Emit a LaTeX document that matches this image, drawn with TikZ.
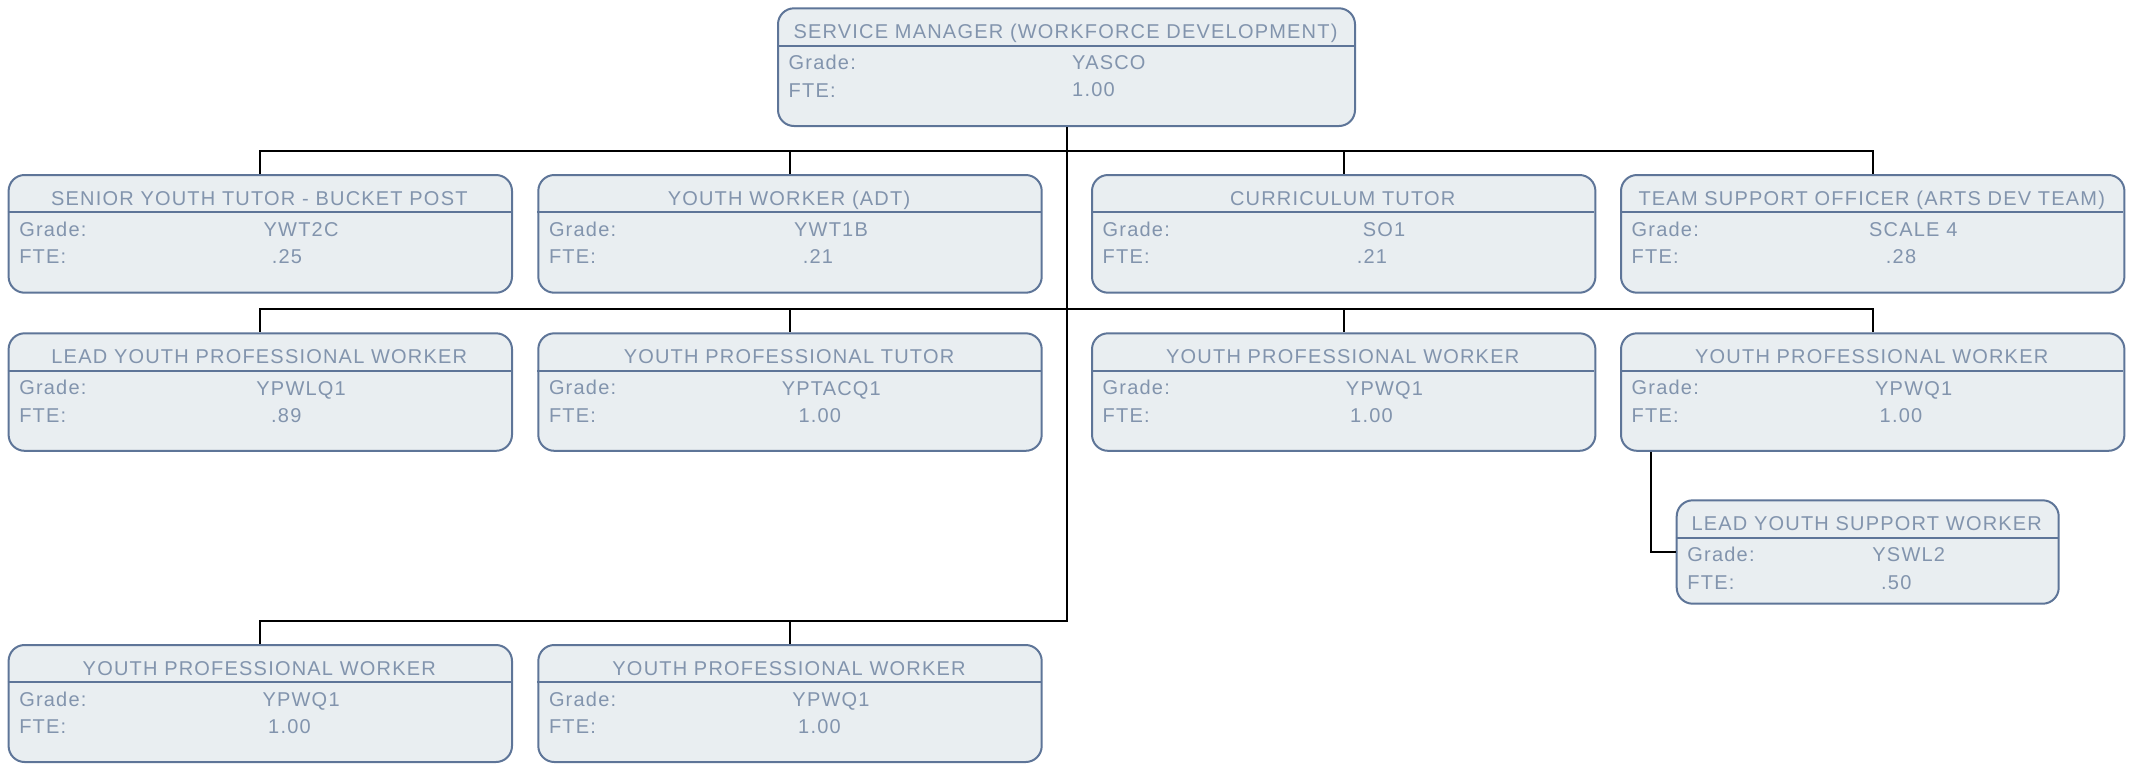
\documentclass[tikz,border=0pt]{standalone}
\usepackage{fontspec}
\setmainfont{Liberation Sans}[LetterSpace=6]
\definecolor{boxfill}{HTML}{E9EEF1}
\definecolor{boxline}{HTML}{5E7598}
\definecolor{boxtext}{HTML}{8294AD}
\tikzset{
  orgbox/.style={draw=boxline, fill=boxfill, line width=2pt, rounded corners=16pt, inner sep=0pt},
  divline/.style={draw=boxline, line width=2pt},
  txt/.style={text=boxtext, inner sep=0pt, font=\fontsize{20}{24}\selectfont},
  conn/.style={draw=black, line width=2pt},
}
\newcommand{\obox}[6]{%
  \node[orgbox, minimum width=#4pt, minimum height=#5pt, anchor=north west] (#1) at (#2,#3) {};
  \draw[divline] (#2,#3+38.3) -- (#2+#4,#3+38.3);
  \node[txt, anchor=base] (#1-title) at (#2+#4/2,#3+31) {#6};
  \node[txt, anchor=base west] (#1-gl) at (#2+11.5,#3+62.5) {Grade:};
  \node[txt, anchor=base west] (#1-fl) at (#2+11.5,#3+89.8) {FTE:};
}
\begin{document}
\begin{tikzpicture}[x=1pt,y=-1pt]
\useasboundingbox (0,0) rectangle (2134,764);
% top
\obox{sm}{777}{7.3}{577}{117.7}{SERVICE MANAGER (WORKFORCE DEVELOPMENT)}
\node[txt, anchor=base west] (sm-g) at (1072,69.3) {YASCO};
\node[txt, anchor=base west] (sm-f) at (1072,96.7) {1.00};
% row 1
\obox{r1a}{7.6}{174}{503.4}{117.7}{SENIOR YOUTH TUTOR - BUCKET POST}
\node[txt, anchor=base] (r1a-g) at (301.1,236.7) {YWT2C};
\node[txt, anchor=base west] (r1a-f) at (271.6,263.8) {.25};
\obox{r1b}{537.3}{174}{503.4}{117.7}{YOUTH WORKER (ADT)}
\node[txt, anchor=base] (r1b-g) at (831,236.7) {YWT1B};
\node[txt, anchor=base west] (r1b-f) at (802.7,263.8) {.21};
\obox{r1c}{1091}{174}{503.4}{117.7}{CURRICULUM TUTOR}
\node[txt, anchor=base] (r1c-g) at (1384,236.7) {SO1};
\node[txt, anchor=base west] (r1c-f) at (1356.7,263.8) {.21};
\obox{r1d}{1620}{174}{503.4}{117.7}{TEAM SUPPORT OFFICER (ARTS DEV TEAM)}
\node[txt, anchor=base] (r1d-g) at (1913.3,236.7) {SCALE 4};
\node[txt, anchor=base west] (r1d-f) at (1885.7,263.8) {.28};
% row 2
\obox{r2a}{7.6}{332.3}{503.4}{117.5}{LEAD YOUTH PROFESSIONAL WORKER}
\node[txt, anchor=base] (r2a-g) at (301.1,395) {YPWLQ1};
\node[txt, anchor=base west] (r2a-f) at (271,422) {.89};
\obox{r2b}{537.3}{332.3}{503.4}{117.5}{YOUTH PROFESSIONAL TUTOR}
\node[txt, anchor=base] (r2b-g) at (831.3,395) {YPTACQ1};
\node[txt, anchor=base west] (r2b-f) at (798.3,422) {1.00};
\obox{r2c}{1091}{332.3}{503.4}{117.5}{YOUTH PROFESSIONAL WORKER}
\node[txt, anchor=base] (r2c-g) at (1384.5,395) {YPWQ1};
\node[txt, anchor=base west] (r2c-f) at (1350,422) {1.00};
\obox{r2d}{1620}{332.3}{503.4}{117.5}{YOUTH PROFESSIONAL WORKER}
\node[txt, anchor=base] (r2d-g) at (1913.7,395) {YPWQ1};
\node[txt, anchor=base west] (r2d-f) at (1879.5,422) {1.00};
% lead support worker
\obox{ls}{1675.7}{499.3}{382}{103.4}{LEAD YOUTH SUPPORT WORKER}
\node[txt, anchor=base] (ls-g) at (1908.7,561.8) {YSWL2};
\node[txt, anchor=base west] (ls-f) at (1881,589.3) {.50};
% row 3
\obox{r3a}{7.6}{644}{503.4}{117}{YOUTH PROFESSIONAL WORKER}
\node[txt, anchor=base] (r3a-g) at (301.1,706.7) {YPWQ1};
\node[txt, anchor=base west] (r3a-f) at (268,733.8) {1.00};
\obox{r3b}{537.3}{644}{503.4}{117}{YOUTH PROFESSIONAL WORKER}
\node[txt, anchor=base] (r3b-g) at (831,706.7) {YPWQ1};
\node[txt, anchor=base west] (r3b-f) at (798,733.8) {1.00};
% connectors
\foreach \c in {r1a,r1b,r1c,r1d}{\draw[conn] (sm.south) -- ++(0,24) -| (\c.north);}
\foreach \c in {r2a,r2b,r2c,r2d}{\draw[conn] (sm.south) -- ++(0,182.3) -| (\c.north);}
\foreach \c in {r3a,r3b}{\draw[conn] (sm.south) -- ++(0,494) -| (\c.north);}
\draw[conn] ([xshift=30.7pt]r2d.south west) |- (ls.west);
\end{tikzpicture}
\end{document}
